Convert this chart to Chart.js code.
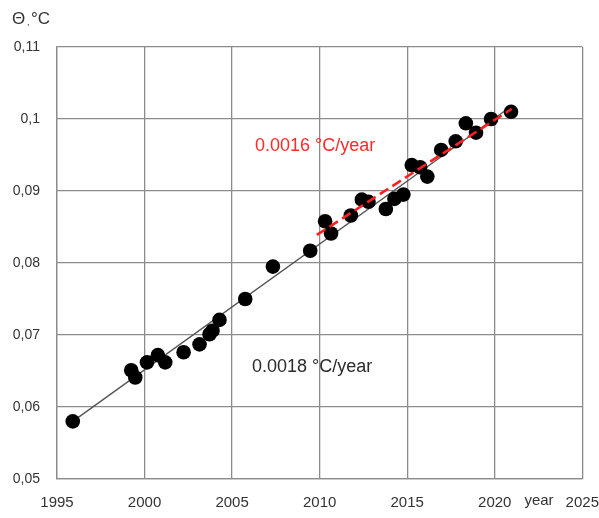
<!DOCTYPE html>
<html>
<head>
<meta charset="utf-8">
<script src="https://cdn.jsdelivr.net/npm/chart.js@4/dist/chart.umd.min.js"></script>
<style>
  html, body { margin: 0; padding: 0; background: #fff; }
  #thetaChart { display: block; }
</style>
</head>
<body>
<canvas id="thetaChart" width="599" height="518"></canvas>
<script>
// measured points: year and theta, °C
const years = [1995.9, 1999.24, 1999.47, 2000.14, 2000.76, 2001.18, 2002.23, 2003.14, 2003.71, 2003.88,
    2004.28, 2005.75, 2007.33, 2009.46, 2010.31, 2010.65, 2011.78, 2012.41, 2012.79, 2013.78,
    2014.27, 2014.78, 2015.26, 2015.74, 2016.15, 2016.94, 2017.77, 2018.35, 2018.93, 2019.79, 2020.93];
const theta = [0.0580, 0.0651, 0.0641, 0.0662, 0.0672, 0.0662, 0.0676, 0.0687, 0.0701, 0.0706,
    0.0721, 0.0750, 0.0795, 0.0817, 0.0858, 0.0841, 0.0866, 0.0888, 0.0885, 0.0875,
    0.0889, 0.0895, 0.0936, 0.0933, 0.0920, 0.0957, 0.0969, 0.0994, 0.0981, 0.1000, 0.1010];

// trend over the whole record
const fullTrendYears = [1995.9, 2020.97];
const fullTrendTheta = [0.0580, 0.1018];
// trend since 2010
const recentTrendYears = [2009.84, 2020.97];
const recentTrendTheta = [0.0839, 0.1014];

const fullTrendLabel = '0.0018 °C/year';
const recentTrendLabel = '0.0016 °C/year';

const xTicks = [1995, 2000, 2005, 2010, 2015, 2020, 2025];
const yTicks = [0.05, 0.06, 0.07, 0.08, 0.09, 0.10, 0.11];

const toXY = (xs, ys) => xs.map((x, i) => ({ x: x, y: ys[i] }));

const fontFamily = "'Liberation Sans', Arial, sans-serif";

const extraText = {
    id: 'extraText',
    afterDraw(chart) {
        const ctx = chart.ctx;
        const area = chart.chartArea;
        ctx.save();
        ctx.textBaseline = 'middle';
        ctx.textAlign = 'left';

        // axis title
        ctx.fillStyle = '#333';
        ctx.font = '17px ' + fontFamily;
        ctx.fillText('Θ', 12, 19);
        ctx.font = '9px ' + fontFamily;
        ctx.fillText(',', 27, 23);
        ctx.font = '17px ' + fontFamily;
        ctx.fillText('°C', 31, 19);

        // trend rates
        ctx.font = '18px ' + fontFamily;
        ctx.fillStyle = '#ff2a2a';
        ctx.fillText(recentTrendLabel, area.left + 198, 146);
        ctx.fillStyle = '#2b2b2b';
        ctx.fillText(fullTrendLabel, area.left + 195, 367);

        // x axis name between last two ticks
        ctx.font = '15px ' + fontFamily;
        ctx.textAlign = 'center';
        ctx.fillStyle = '#333';
        ctx.fillText('year', 539, 501);
        ctx.restore();
    }
};

new Chart(document.getElementById('thetaChart'), {
    type: 'scatter',
    data: {
        datasets: [
            {
                label: 'since 2010',
                data: toXY(recentTrendYears, recentTrendTheta),
                showLine: true,
                borderColor: '#ff1f1f',
                borderWidth: 2.6,
                borderDash: [10, 5],
                pointRadius: 0,
                order: 0
            },
            {
                label: 'theta',
                data: toXY(years, theta),
                backgroundColor: '#000',
                borderColor: '#000',
                pointRadius: 7.3,
                pointBorderWidth: 0,
                order: 1
            },
            {
                label: 'all years',
                data: toXY(fullTrendYears, fullTrendTheta),
                showLine: true,
                borderColor: '#555',
                borderWidth: 1.4,
                pointRadius: 0,
                order: 2
            }
        ]
    },
    options: {
        responsive: false,
        animation: false,
        devicePixelRatio: 1,
        layout: { padding: { left: 0, right: 0, top: 47, bottom: 0 } },
        plugins: {
            legend: { display: false },
            tooltip: { enabled: false }
        },
        scales: {
            x: {
                type: 'linear',
                min: 1995,
                max: 2025,
                afterBuildTicks: (axis) => { axis.ticks = xTicks.map(v => ({ value: v })); },
                afterFit: (axis) => { axis.height = 39; axis.paddingRight = 16.7; },
                grid: { color: '#8c8c8c', lineWidth: 1.3, drawTicks: false },
                border: { color: '#8c8c8c', width: 1.3 },
                ticks: {
                    padding: 15,
                    maxRotation: 0,
                    autoSkip: false,
                    color: '#333',
                    font: { family: fontFamily, size: 15 },
                    callback: (v) => String(v)
                }
            },
            y: {
                min: 0.05,
                max: 0.11,
                afterBuildTicks: (axis) => { axis.ticks = yTicks.map(v => ({ value: v })); },
                afterFit: (axis) => { axis.width = 57; },
                grid: { color: '#8c8c8c', lineWidth: 1.3, drawTicks: false },
                border: { color: '#8c8c8c', width: 1.3 },
                ticks: {
                    padding: 17,
                    color: '#333',
                    font: { family: fontFamily, size: 14 },
                    callback: (v) => String(+v.toFixed(2)).replace('.', ',')
                }
            }
        }
    },
    plugins: [extraText]
});
</script>
</body>
</html>
